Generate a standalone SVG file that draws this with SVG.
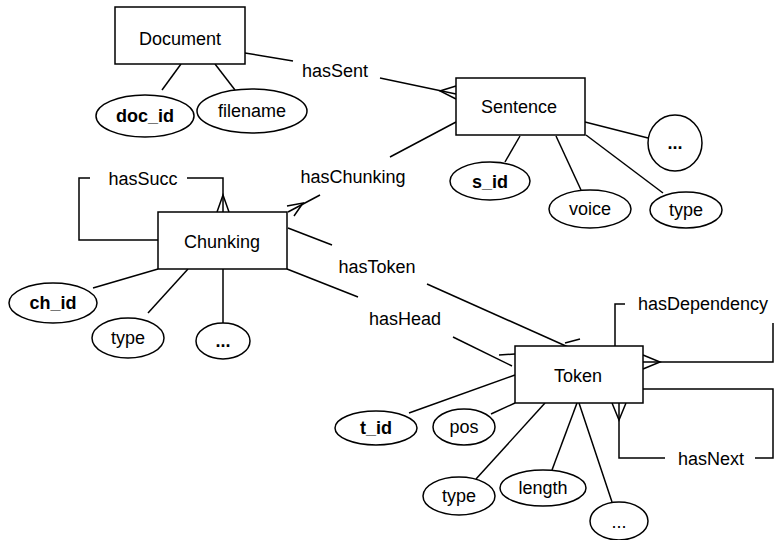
<svg xmlns="http://www.w3.org/2000/svg" width="774" height="540" viewBox="0 0 774 540">
<style>
.ent{fill:#fff;stroke:#000;stroke-width:1.5}
.att{fill:#fff;stroke:#000;stroke-width:1.5}
.ln{fill:none;stroke:#000;stroke-width:1.5}
text{font-family:"Liberation Sans",Arial,Helvetica,sans-serif;font-size:18px;text-anchor:middle;fill:#000}
.b{font-weight:bold}
</style>
<rect width="774" height="540" fill="#fff"/>
<g id="connectors">
<!-- Document attributes -->
<line class="ln" x1="181" y1="64" x2="162" y2="90"/>
<line class="ln" x1="215" y1="64" x2="235" y2="90"/>
<!-- hasSent -->
<line class="ln" x1="245" y1="53" x2="293" y2="61"/>
<line class="ln" x1="380" y1="78" x2="456" y2="94"/>
<polyline class="ln" points="456,86 440,91 456,99"/>
<!-- Sentence attributes -->
<line class="ln" x1="520" y1="136" x2="505" y2="162"/>
<line class="ln" x1="556" y1="136" x2="581" y2="190"/>
<line class="ln" x1="586" y1="135" x2="663" y2="193"/>
<line class="ln" x1="585" y1="122" x2="648" y2="138"/>
<!-- hasChunking -->
<line class="ln" x1="456" y1="122" x2="390" y2="157"/>
<line class="ln" x1="320" y1="195" x2="288" y2="212"/>
<polyline class="ln" points="287,206 303,203 294,216"/>
<!-- hasSucc -->
<polyline class="ln" points="158,240 79,240 79,178 90,178"/>
<polyline class="ln" points="187,178 223,178 223,212"/>
<polyline class="ln" points="217,212 223,195 229,212"/>
<!-- Chunking attributes -->
<line class="ln" x1="158" y1="269" x2="93" y2="288"/>
<line class="ln" x1="188" y1="269" x2="148" y2="313"/>
<line class="ln" x1="223" y1="269" x2="223" y2="323"/>
<!-- hasToken -->
<line class="ln" x1="288" y1="228" x2="332" y2="245"/>
<line class="ln" x1="427" y1="284" x2="577" y2="351"/>
<line class="ln" x1="565" y1="343" x2="580" y2="339"/>
<!-- hasHead -->
<line class="ln" x1="287" y1="269" x2="358" y2="297"/>
<line class="ln" x1="453" y1="337" x2="512" y2="366"/>
<line class="ln" x1="499" y1="355" x2="515" y2="354"/>
<!-- hasDependency -->
<polyline class="ln" points="615,346 615,304 625,304"/>
<polyline class="ln" points="773,323 773,362 643,362"/>
<polyline class="ln" points="643,355 660,362 643,369"/>
<!-- hasNext -->
<polyline class="ln" points="643,389 773,389 773,458 755,458"/>
<polyline class="ln" points="665,458 619,458 619,403"/>
<polyline class="ln" points="612,403 619,420 626,403"/>
<!-- Token attributes -->
<line class="ln" x1="515" y1="375" x2="409" y2="413"/>
<line class="ln" x1="515" y1="403" x2="491" y2="414"/>
<line class="ln" x1="545" y1="403" x2="476" y2="479"/>
<line class="ln" x1="577" y1="403" x2="552" y2="470"/>
<line class="ln" x1="579" y1="403" x2="612" y2="502"/>
</g>
<g id="labels">
<text x="335" y="77">hasSent</text>
<text x="353" y="183">hasChunking</text>
<text x="143" y="185">hasSucc</text>
<text x="377" y="273">hasToken</text>
<text x="405" y="325">hasHead</text>
<text x="703" y="310">hasDependency</text>
<text x="711" y="465">hasNext</text>
</g>
<g id="Document"><rect class="ent" x="115" y="7" width="130" height="57"/><text x="180" y="45">Document</text></g>
<g id="doc_id"><ellipse class="att" cx="145" cy="116" rx="49" ry="21"/><text class="b" x="145" y="122">doc_id</text></g>
<g id="filename"><ellipse class="att" cx="252" cy="111" rx="55" ry="22"/><text x="252" y="117">filename</text></g>
<g id="Sentence"><rect class="ent" x="456" y="78" width="129" height="57"/><text x="519" y="113">Sentence</text></g>
<g id="s_id"><ellipse class="att" cx="490" cy="181" rx="40" ry="19"/><text class="b" x="490" y="188">s_id</text></g>
<g id="voice"><ellipse class="att" cx="590" cy="209" rx="41" ry="19"/><text x="590" y="215">voice</text></g>
<g id="s_type"><ellipse class="att" cx="686" cy="210" rx="36" ry="18"/><text x="686" y="216">type</text></g>
<g id="s_more"><ellipse class="att" cx="675" cy="143" rx="27" ry="28"/><text class="b" x="675" y="149">...</text></g>
<g id="Chunking"><rect class="ent" x="158" y="212" width="129" height="57"/><text x="222" y="248">Chunking</text></g>
<g id="ch_id"><ellipse class="att" cx="53" cy="303" rx="44" ry="20"/><text class="b" x="53" y="309">ch_id</text></g>
<g id="c_type"><ellipse class="att" cx="128" cy="338" rx="36" ry="20"/><text x="128" y="344">type</text></g>
<g id="c_more"><ellipse class="att" cx="223" cy="341" rx="27" ry="18"/><text class="b" x="223" y="347">...</text></g>
<g id="Token"><rect class="ent" x="515" y="346" width="128" height="57"/><text x="578" y="382">Token</text></g>
<g id="t_id"><ellipse class="att" cx="376" cy="428" rx="41" ry="17"/><text class="b" x="376" y="434">t_id</text></g>
<g id="pos"><ellipse class="att" cx="464" cy="427" rx="31" ry="18"/><text x="464" y="433">pos</text></g>
<g id="t_type"><ellipse class="att" cx="459" cy="496" rx="36" ry="19"/><text x="459" y="502">type</text></g>
<g id="length"><ellipse class="att" cx="543" cy="488" rx="43" ry="18"/><text x="543" y="494">length</text></g>
<g id="t_more"><ellipse class="att" cx="619" cy="521" rx="29" ry="19"/><text x="619" y="528">...</text></g>
</svg>
